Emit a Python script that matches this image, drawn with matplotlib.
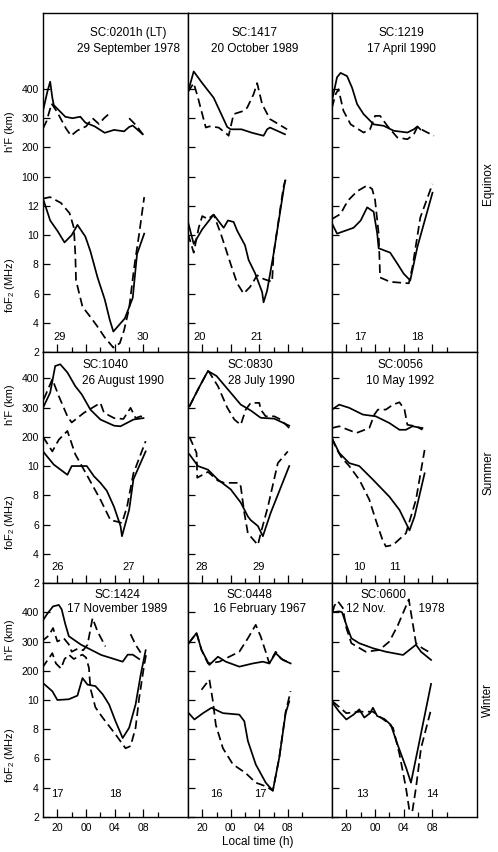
import numpy as np
import matplotlib.pyplot as plt

plt.rcParams['font.family'] = ['Liberation Sans', 'DejaVu Sans']
plt.rcParams['mathtext.default'] = 'regular'

# (local hour, value) pairs; hours after midnight continue as 24..32
# h'F in km, foF2 in MHz
eq1_hf_solid = [(18.0, 325), (18.6, 390), (19.0, 425), (19.3, 370), (19.5, 345), (20.3, 325), (21.1, 305),
                (22.1, 300), (23.2, 305), (23.9, 285), (25.2, 272), (26.6, 250), (27.9, 260), (29.3, 255),
                (30.0, 270), (30.5, 275), (31.9, 245)]
eq1_hf_dash = [(18.0, 265), (18.5, 290), (19.2, 350), (20.0, 320), (21.2, 265), (21.9, 240), (22.8, 258),
               (24.0, 272), (24.9, 300), (25.8, 280), (26.5, 300), (27.2, 315), (np.nan, np.nan),
               (30.0, 300), (31.0, 275), (31.9, 245)]
eq1_fo_solid = [(18.0, 12.5), (19.0, 11.0), (20.0, 10.3), (21.0, 9.5), (22.0, 10.0), (22.8, 10.7), (23.9, 9.9),
                (24.6, 8.9), (25.6, 7.1), (26.6, 5.6), (27.3, 4.2), (27.8, 3.4), (29.4, 4.3), (30.5, 5.7),
                (31.1, 8.7), (32.1, 10.1)]
eq1_fo_dash = [(18.0, 12.5), (19.0, 12.6), (20.5, 12.2), (21.7, 11.5), (22.3, 10.5), (22.5, 8.7), (22.6, 6.9),
               (23.5, 5.1), (24.6, 4.4), (25.5, 3.8), (26.6, 3.0), (27.8, 2.3), (28.7, 2.6), (29.3, 3.5),
               (30.0, 5.0), (30.7, 7.8), (31.4, 10.1), (32.1, 12.6)]

eq2_hf_solid = [(18.0, 390), (18.8, 460), (20.0, 420), (21.6, 370), (23.5, 270), (24.0, 262), (25.5, 262),
                (27.0, 250), (28.6, 240), (29.1, 262), (29.5, 268), (31.6, 245)]
eq2_hf_dash = [(18.0, 390), (18.8, 420), (19.4, 370), (20.0, 314), (20.5, 268), (21.0, 272), (22.3, 268),
               (23.5, 245), (23.7, 240), (24.4, 314), (25.8, 325), (26.3, 336), (27.2, 382), (27.7, 420),
               (28.4, 348), (29.5, 297), (31.9, 262)]
eq2_fo_solid = [(18.0, 10.9), (18.8, 9.4), (20.0, 10.4), (21.6, 11.4), (23.0, 10.5), (23.6, 11.0), (24.4, 10.9),
                (24.9, 10.3), (26.0, 9.3), (26.5, 8.3), (27.4, 7.4), (28.4, 6.1), (28.6, 5.4), (29.1, 6.2),
                (30.0, 8.7), (31.6, 13.7)]
eq2_fo_dash = [(18.0, 10.1), (18.8, 8.8), (19.5, 10.5), (20.0, 11.3), (20.8, 11.1), (21.6, 11.4), (22.6, 10.1),
               (24.0, 8.0), (24.9, 6.7), (25.8, 6.0), (26.7, 6.45), (27.7, 7.25), (28.6, 7.0), (29.8, 6.8),
               (30.0, 8.7), (31.4, 13.3), (31.7, 13.8)]

eq3_hf_solid = [(18.0, 360), (18.7, 440), (19.2, 455), (20.1, 444), (20.8, 404), (21.5, 348), (22.4, 314),
                (23.8, 279), (25.2, 274), (26.6, 257), (28.5, 251), (29.4, 262), (29.9, 272), (30.3, 262)]
eq3_hf_dash = [(18.0, 336), (18.5, 382), (18.9, 399), (19.6, 325), (20.6, 279), (22.4, 251), (23.3, 262),
               (24.0, 308), (24.7, 308), (25.7, 274), (27.1, 234), (28.5, 228), (29.4, 245), (29.9, 270),
               (30.8, 257), (32.2, 240)]
eq3_fo_solid = [(18.0, 10.8), (18.7, 10.1), (21.0, 10.5), (22.0, 11.0), (22.9, 11.9), (23.8, 11.6), (24.3, 10.1),
                (24.5, 9.1), (26.1, 8.8), (27.1, 8.05), (28.0, 7.35), (28.9, 6.9), (29.9, 9.2), (32.0, 12.9)]
eq3_fo_dash = [(18.0, 11.1), (19.2, 11.45), (19.8, 12.0), (20.3, 12.4), (21.5, 13.0), (22.9, 13.4), (23.6, 13.15),
               (24.0, 12.4), (24.5, 10.1), (24.7, 7.1), (26.1, 6.8), (28.7, 6.7), (29.2, 7.8), (30.3, 11.2),
               (32.0, 13.5)]

su1_hf_solid = [(18.1, 304), (19.0, 351), (19.7, 442), (20.4, 448), (21.4, 420), (22.5, 373), (23.4, 345),
                (24.6, 293), (26.0, 259), (27.9, 238), (28.8, 236), (30.6, 259), (32.0, 264)]
su1_hf_dash = [(18.1, 328), (19.3, 397), (20.2, 339), (21.4, 270), (22.0, 249), (23.7, 282), (26.0, 316),
               (26.5, 282), (27.9, 264), (29.2, 261), (30.2, 299), (30.9, 264), (31.6, 270), (32.0, 268)]
su1_fo_solid = [(18.0, 11.0), (19.5, 10.1), (21.4, 9.4), (22.0, 10.0), (24.1, 10.0), (25.1, 9.3), (26.0, 8.85),
                (26.9, 8.3), (27.9, 7.2), (28.8, 5.9), (29.0, 5.2), (30.0, 7.0), (30.6, 9.1), (32.3, 11.0)]
su1_fo_dash = [(18.0, 12.0), (19.3, 11.0), (20.2, 11.8), (21.4, 12.4), (22.5, 10.8), (23.7, 9.75), (26.0, 7.7),
               (27.4, 6.3), (28.3, 6.2), (29.0, 6.1), (29.7, 7.2), (30.6, 9.5), (32.3, 11.7)]

su2_hf_solid = [(18.2, 304), (19.4, 362), (20.8, 425), (22.0, 408), (23.6, 362), (25.4, 310), (26.8, 290),
                (28.2, 265), (30.1, 262), (32.2, 238)]
su2_hf_dash = [(18.2, 304), (19.9, 385), (20.8, 425), (21.0, 420), (22.2, 373), (23.5, 300), (24.5, 259),
               (25.4, 241), (26.1, 293), (26.8, 316), (28.0, 316), (28.2, 293), (28.9, 270), (30.1, 270),
               (31.0, 259), (32.2, 230)]
su2_fo_solid = [(18.2, 10.8), (19.4, 10.0), (20.8, 9.75), (22.2, 9.07), (24.0, 8.4), (25.4, 7.5), (26.4, 6.55),
                (26.8, 6.3), (27.8, 5.9), (28.5, 5.2), (29.6, 6.8), (32.2, 10.0)]
su2_fo_dash = [(18.2, 12.0), (19.2, 10.9), (19.3, 9.2), (20.8, 9.6), (22.2, 9.0), (23.1, 8.85), (25.2, 8.85),
               (25.4, 8.6), (25.9, 6.8), (26.4, 5.4), (27.8, 4.6), (28.2, 5.4), (29.2, 7.2), (30.6, 10.2),
               (32.0, 11.0)]

su3_hf_solid = [(18.0, 293), (19.0, 310), (20.4, 299), (22.3, 276), (24.1, 270), (26.0, 247), (27.4, 224),
                (28.3, 224), (29.2, 236), (30.6, 230)]
su3_hf_dash = [(18.0, 230), (19.0, 236), (21.4, 213), (23.2, 230), (23.9, 276), (24.4, 293), (25.5, 293),
               (26.5, 310), (27.4, 318), (28.1, 293), (28.5, 241), (29.7, 236), (30.6, 224)]
su3_fo_solid = [(18.0, 11.9), (19.0, 10.9), (20.4, 10.2), (21.8, 10.0), (23.7, 9.07), (26.0, 7.9), (27.4, 7.0),
                (28.8, 5.6), (29.5, 6.55), (30.9, 9.5)]
su3_fo_dash = [(18.0, 11.9), (18.6, 11.2), (19.3, 10.6), (20.4, 10.0), (21.8, 9.07), (23.2, 7.7), (24.1, 6.3),
               (25.0, 5.0), (25.5, 4.5), (26.5, 4.6), (28.3, 5.4), (29.7, 7.7), (30.9, 11.1)]

wi1_hf_solid = [(17.8, 365), (18.6, 395), (19.4, 420), (20.2, 425), (20.6, 410), (21.1, 360), (21.6, 318),
                (23.3, 289), (26.1, 254), (29.1, 231), (29.8, 255), (30.5, 255), (31.4, 240)]
wi1_hf_dash = [(17.8, 300), (18.8, 320), (19.4, 346), (20.0, 300), (20.9, 311), (21.6, 290), (22.0, 265),
               (22.8, 275), (23.6, 270), (24.2, 289), (24.9, 380), (25.6, 334), (26.7, 283), (np.nan, np.nan),
               (30.2, 325), (30.9, 289), (31.6, 262)]
wi1_fo_solid = [(17.9, 11.2), (19.3, 10.6), (20.0, 10.0), (21.6, 10.05), (22.8, 10.3), (23.5, 11.5), (24.2, 11.05),
                (25.3, 10.95), (26.3, 10.4), (27.2, 9.7), (28.1, 8.55), (29.1, 7.4), (30.0, 8.1), (30.9, 9.7),
                (31.6, 11.7), (32.3, 13.4)]
wi1_fo_dash = [(17.9, 12.2), (18.6, 12.7), (19.3, 13.2), (19.8, 12.5), (20.5, 12.15), (21.0, 12.8), (21.6, 13.1),
               (22.3, 12.8), (23.0, 13.0), (23.5, 13.1), (24.0, 12.9), (24.4, 12.2), (24.6, 10.8), (25.3, 9.5),
               (26.3, 8.8), (28.1, 7.65), (29.5, 6.7), (30.2, 6.85), (30.9, 8.1), (31.4, 10.15), (32.1, 12.4),
               (32.4, 13.2)]

wi2_hf_solid = [(18.1, 294), (19.2, 329), (19.9, 271), (21.0, 220), (22.2, 248), (23.3, 231), (25.2, 214),
                (27.1, 225), (28.5, 231), (29.4, 225), (30.3, 260), (31.3, 237), (32.4, 225)]
wi2_hf_dash = [(18.1, 294), (19.2, 329), (19.9, 271), (20.8, 225), (22.4, 231), (23.8, 248), (25.2, 265),
               (26.4, 311), (27.5, 357), (28.2, 317), (28.9, 265), (29.4, 225), (30.3, 265), (31.0, 242),
               (32.4, 225)]
wi2_fo_solid = [(18.1, 9.1), (18.9, 8.67), (20.1, 9.1), (21.3, 9.47), (22.9, 9.1), (25.2, 9.0), (25.9, 8.55),
                (26.4, 7.2), (27.5, 5.6), (28.9, 4.35), (29.9, 3.8), (30.8, 6.05), (31.7, 9.1), (32.2, 9.9)]
wi2_fo_dash = [(19.9, 10.7), (21.0, 11.4), (21.5, 9.9), (21.9, 8.3), (22.9, 6.7), (24.3, 5.6), (26.1, 5.0),
               (27.5, 4.35), (28.9, 4.1), (29.9, 3.8), (30.8, 6.05), (31.7, 9.2), (32.4, 10.6)]

wi3_hf_solid = [(18.1, 400), (19.0, 403), (19.4, 400), (20.0, 357), (20.7, 311), (21.8, 294), (23.7, 277),
                (25.5, 265), (27.9, 254), (29.7, 289), (30.4, 265), (31.8, 237)]
wi3_hf_dash = [(18.1, 400), (18.3, 421), (18.8, 438), (19.5, 415), (20.0, 346), (20.7, 294), (22.7, 265),
               (24.6, 271), (26.0, 300), (27.2, 357), (28.1, 409), (28.7, 444), (29.2, 369), (29.7, 294),
               (30.6, 277), (31.8, 260)]
wi3_fo_solid = [(18.1, 9.8), (19.0, 9.2), (20.0, 8.67), (21.0, 9.0), (21.8, 9.36), (22.5, 8.8), (23.3, 9.1),
                (23.7, 9.47), (24.3, 8.9), (25.3, 8.7), (26.2, 8.3), (27.1, 7.0), (28.3, 5.4), (29.0, 4.35),
                (29.9, 6.5), (31.8, 11.1)]
wi3_fo_dash = [(18.1, 9.9), (20.0, 9.1), (21.8, 9.2), (23.7, 9.2), (25.5, 8.55), (26.5, 8.1), (27.4, 6.3),
               (28.3, 4.0), (28.8, 2.4), (29.2, 2.4), (29.7, 4.0), (30.4, 6.7), (31.8, 9.36)]

seasons = ['Equinox', 'Summer', 'Winter']
sc_titles = [['SC:0201h (LT)', 'SC:1417', 'SC:1219'],
             ['SC:1040', 'SC:0830', 'SC:0056'],
             ['SC:1424', 'SC:0448', 'SC:0600']]
date_titles = [['29 September 1978', '20 October 1989', '17 April 1990'],
               ['26 August 1990', '28 July 1990', '10 May 1992'],
               ['17 November 1989', '16 February 1967', '12 Nov.          1978']]
day_text = [[('29', '30'), ('20', '21'), ('17', '18')],
            [('26', '27'), ('28', '29'), ('10', '11')],
            [('17', '18'), ('16', '17'), ('13', '14')]]
day_hour = [[(20.3, 31.9), (19.7, 27.7), (22.0, 29.9)],
            [(20.0, 29.9), (19.9, 27.9), (21.8, 26.8)],
            [(20.0, 28.1), (22.0, 28.1), (22.2, 32.0)]]
time_ticks = [20, 24, 28, 32]
time_labels = ['20', '00', '04', '08']

curves = [[(eq1_hf_solid, eq1_hf_dash, eq1_fo_solid, eq1_fo_dash),
           (eq2_hf_solid, eq2_hf_dash, eq2_fo_solid, eq2_fo_dash),
           (eq3_hf_solid, eq3_hf_dash, eq3_fo_solid, eq3_fo_dash)],
          [(su1_hf_solid, su1_hf_dash, su1_fo_solid, su1_fo_dash),
           (su2_hf_solid, su2_hf_dash, su2_fo_solid, su2_fo_dash),
           (su3_hf_solid, su3_hf_dash, su3_fo_solid, su3_fo_dash)],
          [(wi1_hf_solid, wi1_hf_dash, wi1_fo_solid, wi1_fo_dash),
           (wi2_hf_solid, wi2_hf_dash, wi2_fo_solid, wi2_fo_dash),
           (wi3_hf_solid, wi3_hf_dash, wi3_fo_solid, wi3_fo_dash)]]

# layout in pixels
W, H = 498, 852
col_left = [43, 188, 332]
col_w = [145, 144, 145]
row_top = [13, 352, 583]
row_bot = [352, 583, 817]
fo_top = [25.2, 17.8, 18.0]
hf_base = [12, 8, 8]            # fo-axis position of h'F = base + h/50
fo_ticks = [[2, 4, 6, 8, 10, 12], [2, 4, 6, 8, 10], [2, 4, 6, 8, 10]]
hf_ticks = [[100, 200, 300, 400], [200, 300, 400], [200, 300, 400]]
title_x = [[(0.59, 0.59, 'center'), (0.46, 0.46, 'center'), (0.476, 0.476, 'center')],
           [(0.27, 0.27, 'left'), (0.275, 0.275, 'left'), (0.469, 0.469, 'center')],
           [(0.51, 0.51, 'center'), (0.43, 0.5, 'center'), (0.352, 0.44, 'center')]]
title_y = [(0.941, 0.894), (0.944, 0.874), (0.949, 0.889)]
day_y = [3.0, 3.1, 3.6]
label_y = [(132, 285), (405, 522), (640, 755)]
season_y = [184, 473, 700]

dash = (0, (5, 2.6))
lw = 1.25

fig = plt.figure(figsize=(W / 100, H / 100), dpi=100)

for r in range(3):
    for c in range(3):
        ax = fig.add_axes([col_left[c] / W, 1 - row_bot[r] / H, col_w[c] / W, (row_bot[r] - row_top[r]) / H])
        ax.set_xlim(18, 38.2)
        ax.set_ylim(2, fo_top[r])
        axh = ax.twinx()
        axh.set_ylim((2 - hf_base[r]) * 50, (fo_top[r] - hf_base[r]) * 50)
        for sp in axh.spines.values():
            sp.set_visible(False)
        for sp in ax.spines.values():
            sp.set_linewidth(1.0)

        hf_s, hf_d, fo_s, fo_d = curves[r][c]
        t, v = np.array(hf_s, dtype=float).T
        axh.plot(t, v, color='black', lw=lw)
        t, v = np.array(hf_d, dtype=float).T
        axh.plot(t, v, color='black', lw=lw, linestyle=dash)
        t, v = np.array(fo_s, dtype=float).T
        ax.plot(t, v, color='black', lw=lw)
        t, v = np.array(fo_d, dtype=float).T
        ax.plot(t, v, color='black', lw=lw, linestyle=dash)

        # y ticks on the left for both quantities
        ax.set_yticks(fo_ticks[r])
        axh.set_yticks(hf_ticks[r])
        axh.yaxis.set_ticks_position('left')
        for a in (ax, axh):
            a.tick_params(axis='y', direction='in', length=5, width=0.9, labelsize=7.5, pad=3,
                          labelleft=(c == 0), right=False, labelright=False)

        # time axis
        ax.set_xticks(time_ticks)
        ax.set_xticks([22, 26, 30, 34], minor=True)
        ax.set_xticklabels(time_labels if r == 2 else [])
        ax.tick_params(axis='x', which='major', direction='in', length=6, width=0.9, labelsize=7.5, pad=4)
        ax.tick_params(axis='x', which='minor', direction='in', length=3.5, width=0.9)

        xs = title_x[r][c]
        ax.text(xs[0], title_y[r][0], sc_titles[r][c], transform=ax.transAxes, ha=xs[2], va='center',
                fontsize=8.5)
        ax.text(xs[1], title_y[r][1], date_titles[r][c], transform=ax.transAxes, ha=xs[2], va='center',
                fontsize=8.5)
        for txt, hr in zip(day_text[r][c], day_hour[r][c]):
            ax.text(hr, day_y[r], txt, ha='center', va='center', fontsize=8)

    fig.text(10 / W, 1 - label_y[r][0] / H, "h'F (km)", rotation=90, ha='center', va='center', fontsize=8)
    fig.text(10 / W, 1 - label_y[r][1] / H, 'foF$_2$ (MHz)', rotation=90, ha='center', va='center',
             fontsize=8)
    fig.text(488 / W, 1 - season_y[r] / H, seasons[r], rotation=90, ha='center', va='center', fontsize=8.5)

fig.text(258 / W, 1 - 842 / H, 'Local time (h)', ha='center', va='center', fontsize=8.5)

fig.savefig('out.png', dpi=100)
